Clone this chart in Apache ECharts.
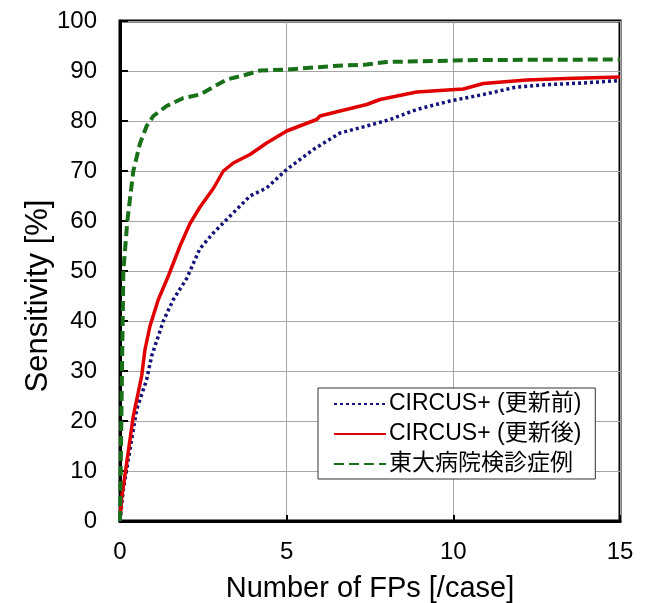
<!DOCTYPE html>
<html>
<head>
<meta charset="utf-8">
<script src="https://cdn.jsdelivr.net/npm/echarts@6/dist/echarts.min.js"></script>
<style>
  html, body { margin: 0; padding: 0; background: #fff; }
  #main { width: 655px; height: 603px; }
</style>
</head>
<body>
<div id="main"></div>
<script>
// 凡例名
var seriesNames = ['CIRCUS+ (更新前)', 'CIRCUS+ (更新後)', '東大病院検診症例']

// CIRCUS+ (更新前)
var beforeFP = [0, 0.1, 0.3, 0.5, 0.8, 0.95, 1.3, 1.6, 2.0, 2.4, 2.8, 3.2, 3.9, 4.4, 5.0, 5.8, 6.6, 7.4, 8.1, 8.9, 9.9, 10.9, 11.9, 12.9, 13.9, 15]
var beforeSens = [0, 6.3, 14.3, 22.3, 28.3, 33, 40, 44.3, 48.5, 54.5, 57.6, 60.3, 65, 66.6, 70.3, 74.3, 77.6, 79, 80.3, 82.3, 84, 85.3, 86.8, 87.3, 87.6, 88.1]

// CIRCUS+ (更新後)
var afterFP = [0, 0.05, 0.2, 0.4, 0.65, 0.75, 0.9, 1.15, 1.45, 1.8, 2.1, 2.4, 2.8, 3.1, 3.4, 3.9, 4.4, 5.0, 5.9, 6.0, 6.6, 7.4, 7.8, 8.9, 10.3, 10.9, 12.2, 13.4, 15]
var afterSens = [0, 4.6, 11.6, 21, 29, 34.3, 39, 44.3, 49, 55, 59.5, 62.8, 66.5, 70, 71.6, 73.3, 75.6, 78, 80.3, 81, 82, 83.3, 84.3, 85.8, 86.4, 87.5, 88.2, 88.5, 88.8]

// 東大病院検診症例
var todaiFP = [0, 0.02, 0.04, 0.06, 0.08, 0.1, 0.22, 0.4, 0.6, 0.8, 1.0, 1.4, 1.9, 2.4, 2.8, 3.2, 3.8, 4.2, 5.0, 6.4, 7.4, 8.0, 10.8, 15]
var todaiSens = [0, 10, 20, 30, 40, 50, 60, 70, 75.5, 79, 81, 83, 84.6, 85.3, 86.8, 88.3, 89.3, 90.1, 90.3, 91, 91.3, 91.8, 92.2, 92.3]

// 目盛り
var xTicks = [0, 5, 10, 15]
var yTicks = [0, 10, 20, 30, 40, 50, 60, 70, 80, 90, 100]

function zip (xs, ys) {
  return xs.map(function (x, i) { return [x, ys[i]] })
}

var font = '"Liberation Sans", Arial, "Noto Sans CJK JP", sans-serif'
var myChart = echarts.init(document.getElementById('main'))
myChart.setOption({
  animation: false,
  grid: {
    left: 120,
    right: 35,
    top: 21,
    bottom: 82,
    outerBoundsMode: 'none', // v6: ラベルによるグリッド縮小を止める
    show: true,
    borderColor: '#000',
    borderWidth: 3,
    backgroundColor: '#fff'
  },
  legend: {
    orient: 'vertical',
    left: 318,
    top: 388,
    padding: [4, 14, 3, 15],
    backgroundColor: '#fff',
    borderColor: '#333',
    borderWidth: 1,
    itemWidth: 52,
    itemHeight: 14,
    itemGap: 6,
    itemStyle: { opacity: 0 },
    textStyle: {
      fontFamily: font,
      fontSize: 23,
      lineHeight: 24,
      color: '#000',
      padding: [0, 0, 0, -2]
    },
    data: seriesNames
  },
  xAxis: {
    type: 'value',
    min: 0,
    max: 15,
    interval: 5,
    name: 'Number of FPs [/case]',
    nameLocation: 'middle',
    nameGap: 53,
    nameMoveOverlap: false,
    nameTextStyle: { fontFamily: font, fontSize: 29, color: '#000' },
    axisLine: { lineStyle: { color: '#000', width: 3 } },
    axisTick: { inside: true, length: 6, lineStyle: { color: '#000', width: 2 } },
    axisLabel: {
      fontFamily: font,
      fontSize: 24,
      color: '#000',
      margin: 19,
      formatter: function (v) { return xTicks.indexOf(v) >= 0 ? String(v) : '' }
    },
    splitLine: { show: true, lineStyle: { color: '#a6a6a6', width: 1 } }
  },
  yAxis: {
    type: 'value',
    min: 0,
    max: 100,
    interval: 10,
    name: 'Sensitivity [%]',
    nameLocation: 'middle',
    nameGap: 66,
    nameMoveOverlap: false, // v6: 目盛りラベルとの重なり回避を止める
    nameRotate: 90,
    nameTextStyle: { fontFamily: font, fontSize: 31, color: '#000', padding: [0, 50, 0, 0] },
    axisLine: { lineStyle: { color: '#000', width: 3 } },
    axisTick: { inside: true, length: 8, lineStyle: { color: '#000', width: 2 } },
    axisLabel: {
      fontFamily: font,
      fontSize: 24,
      color: '#000',
      margin: 23,
      formatter: function (v) { return yTicks.indexOf(v) >= 0 ? String(v) : '' }
    },
    splitLine: { show: true, lineStyle: { color: '#a6a6a6', width: 1 } }
  },
  series: [
    {
      name: seriesNames[0],
      type: 'line',
      symbol: 'none',
      lineStyle: { color: '#13137a', width: 3.5, type: [3, 3] },
      itemStyle: { color: '#13137a' },
      data: zip(beforeFP, beforeSens),
      z: 3
    },
    {
      name: seriesNames[1],
      type: 'line',
      symbol: 'none',
      lineStyle: { color: '#e00000', width: 3.5 },
      itemStyle: { color: '#e00000' },
      data: zip(afterFP, afterSens),
      z: 4
    },
    {
      name: seriesNames[2],
      type: 'line',
      symbol: 'none',
      lineStyle: { color: '#187018', width: 4, type: [10, 5] },
      itemStyle: { color: '#187018' },
      data: zip(todaiFP, todaiSens),
      z: 5
    }
  ]
})
</script>
</body>
</html>
